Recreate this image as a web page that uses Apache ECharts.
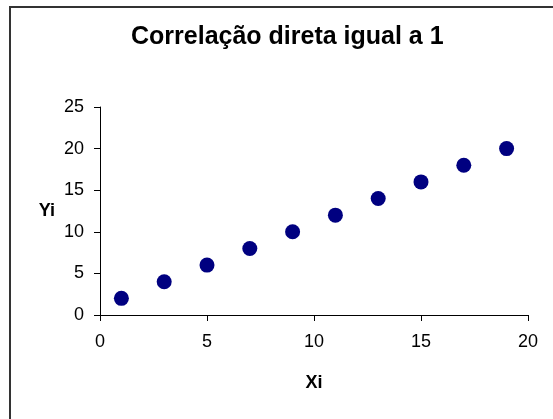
<!DOCTYPE html>
<html>
<head>
<meta charset="utf-8">
<script src="https://cdn.jsdelivr.net/npm/echarts@6/dist/echarts.min.js"></script>
<style>
  html, body { margin: 0; padding: 0; background: #fff; }
  #chart { width: 553px; height: 419px; }
</style>
</head>
<body>
<div id="chart"></div>
<script>
// dados
const xi = [1, 3, 5, 7, 9, 11, 13, 15, 17, 19]
const yi = [2, 4, 6, 8, 10, 12, 14, 16, 18, 20]
const titulo = 'Correlação direta igual a 1'

const fonte = 'Liberation Sans, Arial, sans-serif'
let myChart = echarts.init(document.getElementById('chart'))

let option = {
  backgroundColor: '#fff',
  animation: false,
  title: {
    text: titulo,
    left: 126,
    top: 20,
    textStyle: { fontFamily: fonte, fontSize: 25, fontWeight: 'bold', color: '#000' }
  },
  // moldura só em cima e à esquerda, como no original
  graphic: [{
    type: 'polyline',
    shape: { points: [[10, 419], [10, 7], [553, 7]] },
    style: { stroke: '#333', lineWidth: 2, fill: null },
    silent: true
  }],
  grid: { left: 100, right: 25, top: 107, bottom: 104 },
  xAxis: {
    type: 'value',
    min: 0, max: 20, interval: 5,
    name: 'Xi',
    nameLocation: 'middle',
    nameGap: 59,
    nameTextStyle: { fontFamily: fonte, fontSize: 18, fontWeight: 'bold', color: '#000' },
    axisLine: { show: true, onZero: false, lineStyle: { color: '#000', width: 1 } },
    axisTick: { show: true, inside: false, length: 6, lineStyle: { color: '#000' } },
    axisLabel: { margin: 18, fontFamily: fonte, fontSize: 18, color: '#000' },
    splitLine: { show: false }
  },
  yAxis: {
    type: 'value',
    min: 0, max: 25, interval: 5,
    name: 'Yi',
    nameLocation: 'middle',
    nameRotate: 0,
    nameGap: 45,
    nameTextStyle: { fontFamily: fonte, fontSize: 18, fontWeight: 'bold', color: '#000' },
    axisLine: { show: true, onZero: false, lineStyle: { color: '#000', width: 1 } },
    axisTick: { show: true, inside: false, length: 6, lineStyle: { color: '#000' } },
    axisLabel: { margin: 16, fontFamily: fonte, fontSize: 18, color: '#000' },
    splitLine: { show: false }
  },
  series: [{
    type: 'scatter',
    symbol: 'circle',
    symbolSize: 15,
    itemStyle: { color: '#000080', opacity: 1 },
    data: xi.map((x, i) => [x, yi[i]])
  }]
}
myChart.setOption(option)
</script>
</body>
</html>
